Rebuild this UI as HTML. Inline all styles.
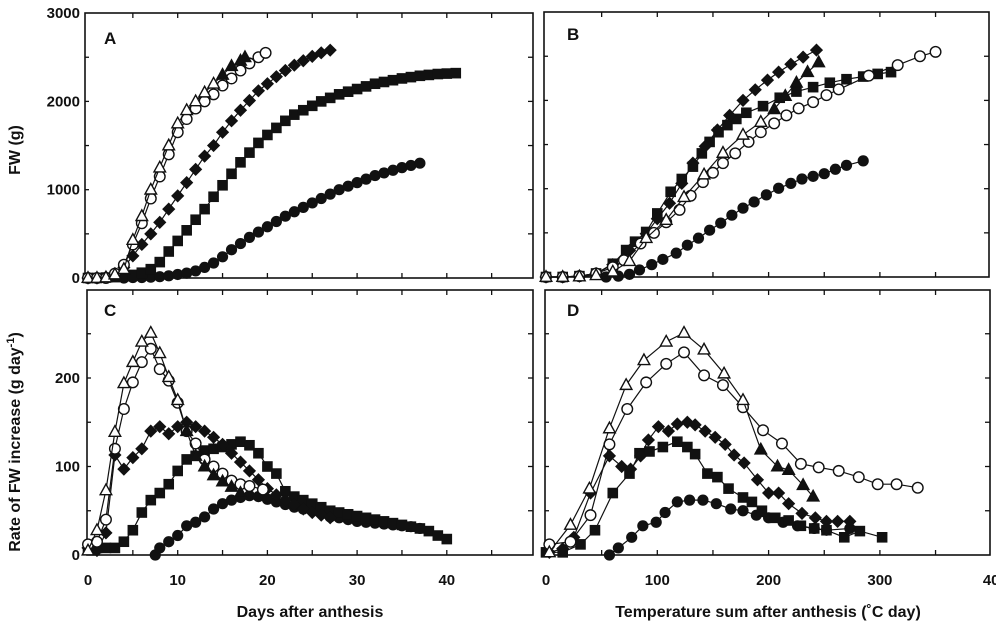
<!DOCTYPE html>
<html><head><meta charset="utf-8"><style>
body{margin:0;background:#fff;}
svg{display:block;font-family:"Liberation Sans",Arial,sans-serif;font-weight:bold;}
</style></head><body>
<svg id="chart" width="996" height="624" viewBox="0 0 996 624" xmlns="http://www.w3.org/2000/svg">
<g id="frames"></g>
<g id="marks"></g>
<g id="labels" font-size="15" fill="#111">
<text x="104" y="44" font-size="17">A</text>
<text x="567" y="40" font-size="17">B</text>
<text x="104" y="316" font-size="17">C</text>
<text x="567" y="316" font-size="17">D</text>
<text transform="translate(20,150) rotate(-90)" text-anchor="middle" font-size="16">FW (g)</text>
<text transform="translate(20,442) rotate(-90)" text-anchor="middle" font-size="16">Rate of FW increase (g day<tspan font-size="11" dy="-6">-1</tspan><tspan dy="6">)</tspan></text>
<text x="310" y="617" text-anchor="middle" font-size="16">Days after anthesis</text>
<text x="768" y="617" text-anchor="middle" font-size="16">Temperature sum after anthesis (˚C day)</text>
</g>
</svg>
<script>
// Panel A: FW vs days
const aTriDays=[0,1,2,3,4,5,6,7,8,9,10,11,12,13,14,15,16,17,17.5];
const aTriFW=[0,0,5,40,100,430,700,1000,1250,1500,1750,1900,2000,2100,2200,2300,2400,2460,2500];
const aCirDays=[0,1,2,3,4,5,6,7,8,9,10,11,12,13,14,15,16,17,18,19,19.8];
const aCirFW=[0,0,0,50,150,380,620,900,1150,1400,1650,1800,1920,2000,2080,2180,2260,2350,2430,2500,2550];
const aDiaDays=[0,1,2,3,4,5,6,7,8,9,10,11,12,13,14,15,16,17,18,19,20,21,22,23,24,25,26,27];
const aDiaFW=[0,0,10,50,120,250,380,500,630,780,930,1080,1230,1380,1500,1650,1780,1900,2010,2120,2200,2280,2350,2410,2460,2510,2550,2580];
const aSqDays=[0,1,2,3,4,5,6,7,8,9,10,11,12,13,14,15,16,17,18,19,20,21,22,23,24,25,26,27,28,29,30,31,32,33,34,35,36,37,38,39,40,41];
const aSqFW=[0,0,5,10,20,35,60,100,180,300,420,540,660,780,920,1050,1180,1310,1420,1530,1620,1700,1780,1850,1900,1950,2000,2040,2080,2110,2140,2170,2200,2220,2240,2260,2275,2290,2300,2310,2315,2320];
const aDotDays=[4,5,6,7,8,9,10,11,12,13,14,15,16,17,18,19,20,21,22,23,24,25,26,27,28,29,30,31,32,33,34,35,36,37];
const aDotFW=[0,5,5,10,15,25,40,55,80,120,170,240,320,390,460,520,580,640,700,750,800,850,900,950,1000,1040,1080,1120,1160,1190,1220,1250,1275,1300];
// Panel B: FW vs temperature sum
const bTriT=[0,15,30,45,60,75,90,108,124,142,159,177,193,205,215,225,235,245];
const bTriFW=[0,0,5,20,60,180,440,645,905,1160,1405,1610,1755,1900,2050,2200,2320,2430];
const bCirT=[0,15,30,45,60,70,85,97,108,120,130,141,150,159,170,182,193,205,216,227,240,252,263,290,316,336,350];
const bCirFW=[0,0,10,40,110,190,380,500,620,760,920,1075,1180,1290,1400,1530,1640,1740,1830,1910,1980,2060,2125,2280,2400,2500,2550];
const bDiaT=[0,15,30,45,60,75,90,100,111,122,132,143,154,165,177,188,199,209,220,231,243];
const bDiaFW=[0,0,10,40,140,300,490,660,835,1060,1290,1480,1665,1830,2000,2120,2230,2320,2410,2490,2570];
const bSqT=[0,15,30,45,60,72,80,90,100,112,122,132,140,147,155,163,171,180,195,210,225,240,255,270,285,298,310];
const bSqFW=[0,0,10,40,150,305,400,510,720,965,1110,1250,1400,1530,1640,1720,1790,1860,1935,2030,2100,2150,2200,2240,2270,2300,2320];
const bDotT=[54,65,75,84,95,105,117,127,137,147,157,167,177,187,198,209,220,230,240,250,260,270,285];
const bDotFW=[0,10,30,80,140,200,270,360,440,530,610,700,780,850,930,1005,1060,1110,1140,1170,1220,1265,1315];
// Panel C: rate vs days
const cTriDays=[0,1,2,3,4,5,6,7,8,9,10,11,12,13,14,15,16,17];
const cTriRate=[5,28,73,139,194,218,241,251,228,201,175,140,112,100,90,83,77,70];
const cCirDays=[0,1,2,3,4,5,6,7,8,9,10,11,12,13,14,15,16,17,18,19.5];
const cCirRate=[12,15,40,120,165,195,218,233,210,197,172,140,126,108,100,92,84,80,78,74];
const cDiaDays=[0,1,2,3,4,5,6,7,8,9,10,11,12,13,14,15,16,17,18,19,20,21,22,23,24,25,26,27];
const cDiaRate=[8,5,25,113,97,110,120,140,145,137,145,150,145,140,133,125,115,105,95,85,75,68,62,57,52,48,45,42];
const cSqDays=[0,1,2,3,4,5,6,7,8,9,10,11,12,13,14,15,16,17,18,19,20,21,22,23,24,25,26,27,28,29,30,31,32,33,34,35,36,37,38,39,40];
const cSqRate=[8,8,8,8,15,28,48,62,70,80,95,108,112,118,120,122,125,128,124,115,100,92,72,66,62,58,54,50,48,46,44,42,40,38,36,34,32,30,27,22,18];
const cDotDays=[7.5,8,9,10,11,12,13,14,15,16,17,18,19,20,21,22,23,24,25,26,27,28,29,30,31,32,33,34,35,36,37];
const cDotRate=[0,8,15,22,33,37,43,52,58,62,65,67,66,63,60,57,54,52,50,48,43,42,40,38,37,36,35,34,33,32,30];
// Panel D: rate vs temperature sum
const dTriT=[3,22,39,57,72,88,108,124,142,160,177,193,208,218,231,240];
const dTriRate=[3,34,75,143,192,220,241,251,232,205,175,119,100,96,79,66];
const dCirT=[3,22,40,57,73,90,108,124,142,159,177,195,212,229,245,263,281,298,315,334];
const dCirRate=[12,15,45,125,165,195,216,229,203,192,167,141,126,103,99,95,88,80,80,76];
const dDiaT=[3,15,25,40,57,68,76,85,92,101,110,118,127,134,143,152,161,169,178,190,200,209,218,230,242,252,262,273];
const dDiaRate=[3,7,20,70,112,100,97,112,130,145,140,148,150,147,140,133,125,113,104,85,70,70,58,47,42,38,38,38];
const dSqT=[0,15,31,44,60,75,84,93,105,118,127,134,145,154,164,177,185,194,206,218,229,241,252,268,282,302];
const dSqRate=[3,3,12,28,70,92,115,117,122,128,122,114,92,88,75,65,60,50,42,39,33,30,28,20,27,20];
const dDotT=[57,65,77,87,99,107,118,129,141,153,166,177,189,200,213,226,241,252,273];
const dDotRate=[0,8,20,33,37,48,60,62,62,58,52,50,45,42,37,33,30,28,30];
// Tick labels
const yTicksTop=[0,1000,2000,3000];
const yTicksBottom=[0,100,200];
const xTicksDays=[0,10,20,30,40];
const xTicksTemp=[0,100,200,300,400];
const xTickLabelsTemp=["0","100","200","300","40"];

const NS="http://www.w3.org/2000/svg";
const panels={
  A:{x0:85,x1:533,y0:13,y1:278,sx:d=>88+8.97*d,sy:v=>278-0.0883*v},
  B:{x0:544,x1:989,y0:12,y1:277,sx:t=>546+1.113*t,sy:v=>277-0.0883*v},
  C:{x0:87,x1:533,y0:290,y1:555,sx:d=>88+8.97*d,sy:v=>555-0.885*v},
  D:{x0:545,x1:990,y0:290,y1:555,sx:t=>546+1.113*t,sy:v=>555-0.885*v}
};
function mk(tag,attrs,parent){const e=document.createElementNS(NS,tag);for(const k in attrs)e.setAttribute(k,attrs[k]);parent.appendChild(e);return e;}
const frames=document.getElementById('frames');
const marks=document.getElementById('marks');
const labels=document.getElementById('labels');
for(const key in panels){
  const p=panels[key];
  const r=mk('rect',{x:p.x0,y:p.y0,width:p.x1-p.x0,height:p.y1-p.y0,fill:'none',stroke:'#111','stroke-width':1.6},frames);
  
  
}
function ticks(p,xvals,yvals){
  for(const v of xvals){const x=p.sx(v);if(x>p.x1)continue;
    mk('line',{x1:x,x2:x,y1:p.y1,y2:p.y1-5,stroke:'#111','stroke-width':1.3},frames);
    mk('line',{x1:x,x2:x,y1:p.y0,y2:p.y0+5,stroke:'#111','stroke-width':1.3},frames);}
  for(const v of yvals){const y=p.sy(v);if(y<p.y0)continue;
    mk('line',{x1:p.x0,x2:p.x0+4,y1:y,y2:y,stroke:'#111','stroke-width':1.3},frames);
    mk('line',{x1:p.x1,x2:p.x1-5,y1:y,y2:y,stroke:'#111','stroke-width':1.3},frames);}
}
ticks(panels.A,[5,10,15,20,25,30,35,40,45],[500,1000,1500,2000,2500]);
ticks(panels.B,[50,100,150,200,250,300,350,400],[500,1000,1500,2000,2500]);
ticks(panels.C,[5,10,15,20,25,30,35,40,45],[50,100,150,200,250]);
ticks(panels.D,[50,100,150,200,250,300,350,400],[50,100,150,200,250]);
yTicksTop.forEach(v=>{const t=mk('text',{x:80,y:panels.A.sy(v)+5,'text-anchor':'end'},labels);t.textContent=String(v);
  
  });
yTicksBottom.forEach(v=>{const t=mk('text',{x:80,y:panels.C.sy(v)+5,'text-anchor':'end'},labels);t.textContent=String(v);
  
  });
xTicksDays.forEach(v=>{const t=mk('text',{x:panels.C.sx(v),y:585,'text-anchor':'middle'},labels);t.textContent=String(v);
  
  });
xTicksTemp.forEach((v,i)=>{const t=mk('text',{x:panels.D.sx(v),y:585,'text-anchor':'middle'},labels);t.textContent=xTickLabelsTemp[i];
  
  });

function marker(shape,x,y,g,filled){
  const s=5.3;
  if(shape==='tri') return mk('polygon',{points:`${x},${y-s-1} ${x+s+0.5},${y+s-1} ${x-s-0.5},${y+s-1}`,fill:filled?'#111':'#fff',stroke:'#111','stroke-width':1.4},g);
  if(shape==='cir') return mk('circle',{cx:x,cy:y,r:s,fill:'#fff',stroke:'#111','stroke-width':1.4},g);
  if(shape==='dia') return mk('polygon',{points:`${x},${y-s-1.3} ${x+s+1.3},${y} ${x},${y+s+1.3} ${x-s-1.3},${y}`,fill:'#111'},g);
  if(shape==='sq') return mk('rect',{x:x-s,y:y-s,width:2*s,height:2*s,fill:'#111'},g);
  return mk('circle',{cx:x,cy:y,r:s+0.3,fill:'#111'},g);
}
function series(pk,name,shape,xs,ys,fillFrom){
  const p=panels[pk];
  const g=mk('g',{},marks);
  
  
  const pts=xs.map((x,i)=>p.sx(x).toFixed(1)+','+p.sy(ys[i]).toFixed(1)).join(' ');
  mk('polyline',{points:pts,fill:'none',stroke:'#111','stroke-width':1.2},g);
  xs.forEach((x,i)=>{
    const m=marker(shape,p.sx(x),p.sy(ys[i]),g,fillFrom!==undefined&&x>=fillFrom);
    
    
  });
}
series('A','filled-circle','dot',aDotDays,aDotFW);
series('A','square','sq',aSqDays,aSqFW);
series('A','diamond','dia',aDiaDays,aDiaFW);
series('A','open-circle','cir',aCirDays,aCirFW);
series('A','open-triangle','tri',aTriDays,aTriFW,15);
series('B','filled-circle','dot',bDotT,bDotFW);
series('B','square','sq',bSqT,bSqFW);
series('B','diamond','dia',bDiaT,bDiaFW);
series('B','open-circle','cir',bCirT,bCirFW);
series('B','open-triangle','tri',bTriT,bTriFW,200);
series('C','filled-circle','dot',cDotDays,cDotRate);
series('C','square','sq',cSqDays,cSqRate);
series('C','diamond','dia',cDiaDays,cDiaRate);
series('C','open-circle','cir',cCirDays,cCirRate);
series('C','open-triangle','tri',cTriDays,cTriRate,11);
series('D','filled-circle','dot',dDotT,dDotRate);
series('D','square','sq',dSqT,dSqRate);
series('D','diamond','dia',dDiaT,dDiaRate);
series('D','open-circle','cir',dCirT,dCirRate);
series('D','open-triangle','tri',dTriT,dTriRate,190);
</script>
</body></html>
